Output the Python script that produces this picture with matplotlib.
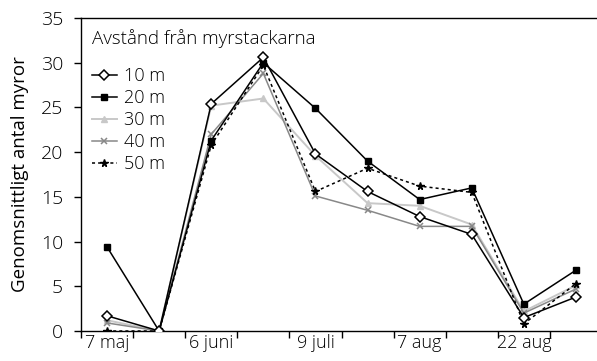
import numpy as np
import matplotlib.pyplot as plt

plt.rcParams['font.family'] = ['Open Sans', 'DejaVu Sans']
plt.rcParams['font.weight'] = 'light'

# x categories (one label every second sample)
datum = ['7 maj', '', '6 juni', '', '9 juli', '', '7 aug', '', '22 aug', '']
avst = ['10 m', '20 m', '30 m', '40 m', '50 m']

m10 = [1.7, 0, 25.4, 30.6, 19.8, 15.6, 12.8, 10.8, 1.5, 3.8]
m20 = [9.4, 0, 21.3, 30.0, 24.9, 19.0, 14.7, 16.0, 3.0, 6.8]
m30 = [1.2, 0, 25.2, 26.0, 19.6, 14.3, 14.0, 11.9, 2.2, 5.1]
m40 = [0.9, 0, 22.0, 28.8, 15.1, 13.5, 11.7, 11.7, 2.0, 4.7]
m50 = [0.0, 0, 20.8, 29.7, 15.6, 18.2, 16.2, 15.5, 0.8, 5.3]

x = np.arange(len(datum))

fig = plt.figure(figsize=(5.97, 3.61), dpi=100)
ax = fig.add_axes([81/597, 30/361, 521/597, 313/361])

ax.plot(x, m10, color='black', lw=1.1, marker='D', ms=5, mfc='white', mec='black', mew=1.1, label=avst[0], zorder=6)
ax.plot(x, m20, color='black', lw=1.1, marker='s', ms=4.5, label=avst[1], zorder=5)
ax.plot(x, m30, color='#c8c8c8', lw=1.4, marker='^', ms=4.5, label=avst[2], zorder=3)
ax.plot(x, m40, color='#888888', lw=1.1, marker='x', ms=4.5, mew=1.1, label=avst[3], zorder=4)
ax.plot(x, m50, color='black', lw=1.1, ls=(0, (2, 2)), marker='*', ms=5.5, label=avst[4], zorder=5)

ax.set_xlim(-0.5, 9.5)
ax.set_ylim(0, 35)
ax.set_yticks(np.arange(0, 36, 5))
ax.set_xticks(np.arange(-0.5, 10, 1))
ax.set_xticklabels([])
ax.set_xticks(x, minor=True)
ax.set_xticklabels(datum, minor=True)
ax.tick_params(axis='x', which='minor', length=0, pad=2, labelsize=13)
ax.tick_params(axis='x', which='major', length=5, width=1, direction='out')
ax.tick_params(axis='y', length=5, width=1, direction='out', labelsize=14, pad=8)
for s in ['left', 'bottom', 'top', 'right']:
    ax.spines[s].set_linewidth(1)
ax.set_ylabel('Genomsnittligt antal myror', fontsize=13.5, labelpad=8)

leg = ax.legend(title='Avstånd från myrstackarna', loc='upper left', frameon=False,
                fontsize=13, title_fontsize=13.5, handlelength=1.4, handletextpad=0.4,
                labelspacing=0.22, borderaxespad=0.2, bbox_to_anchor=(0.0, 1.0))
leg._legend_box.align = 'left'
leg._legend_box.sep = 14

plt.savefig('out.png', dpi=100)
plt.close()
